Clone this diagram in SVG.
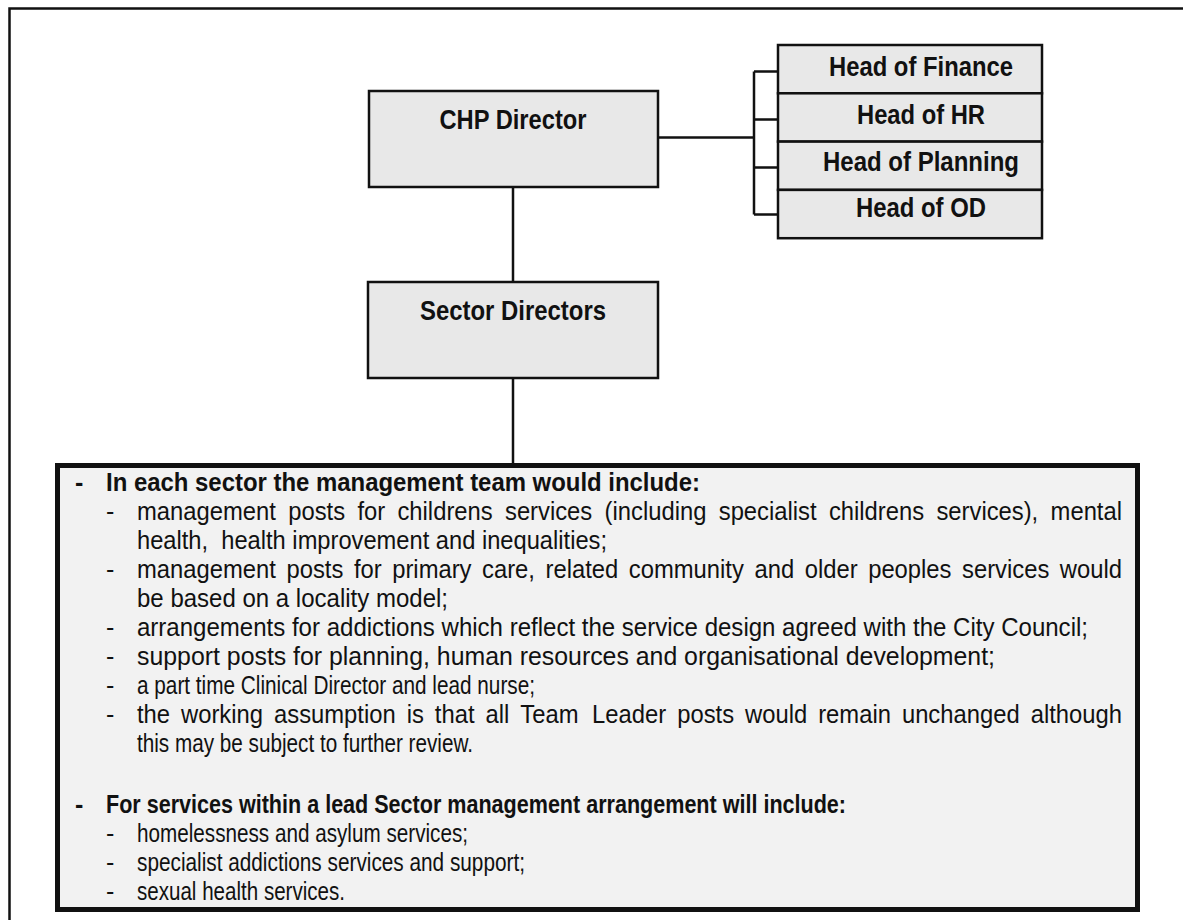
<svg xmlns="http://www.w3.org/2000/svg" width="1183" height="920" viewBox="0 0 1183 920">
  <style>
    .node { fill: #e8e8e8; stroke: #111; stroke-width: 2.5; }
    .label { font-family: "Liberation Sans Narrow", "Liberation Sans", Arial, sans-serif; font-size: 27px; font-weight: bold; fill: #111; text-anchor: middle; }
    .wire { fill: none; stroke: #111; stroke-width: 2.5; }
    .body { font-family: "Liberation Sans Narrow", "Liberation Sans", Arial, sans-serif; font-size: 25px; fill: #111; }
    .head { font-weight: bold; }
    .pre { white-space: pre; }
  </style>

  <!-- page frame -->
  <rect x="9.5" y="8.5" width="1200" height="950" fill="#fff" stroke="#111" stroke-width="2.5"/>

  <!-- connectors -->
  <g id="connectors">
    <path class="wire" d="M513,187 V282"/>
    <path class="wire" d="M513,378 V464"/>
    <path class="wire" d="M658,137.5 H754"/>
    <path class="wire" d="M754,71.5 V214.5 M754,71.5 H778 M754,119.5 H778 M754,167.5 H778 M754,214.5 H778"/>
  </g>

  <g id="chp-director">
    <rect class="node" x="369" y="91" width="289" height="96"/>
    <text class="label" x="513" y="129" textLength="147" lengthAdjust="spacingAndGlyphs">CHP Director</text>
  </g>

  <g id="sector-directors">
    <rect class="node" x="368" y="282" width="290" height="96"/>
    <text class="label" x="513" y="320" textLength="186" lengthAdjust="spacingAndGlyphs">Sector Directors</text>
  </g>

  <g id="head-finance">
    <rect class="node" x="778" y="45" width="264" height="48.3"/>
    <text class="label" x="921" y="76" textLength="184" lengthAdjust="spacingAndGlyphs">Head of Finance</text>
  </g>
  <g id="head-hr">
    <rect class="node" x="778" y="93.3" width="264" height="48.3"/>
    <text class="label" x="921" y="124" textLength="128" lengthAdjust="spacingAndGlyphs">Head of HR</text>
  </g>
  <g id="head-planning">
    <rect class="node" x="778" y="141.6" width="264" height="48.3"/>
    <text class="label" x="921" y="171" textLength="196" lengthAdjust="spacingAndGlyphs">Head of Planning</text>
  </g>
  <g id="head-od">
    <rect class="node" x="778" y="189.9" width="264" height="48.3"/>
    <text class="label" x="921" y="217" textLength="130" lengthAdjust="spacingAndGlyphs">Head of OD</text>
  </g>

  <!-- sector management arrangements -->
  <g id="sector-team">
    <rect x="57.5" y="465.5" width="1080" height="444" fill="#f2f2f2" stroke="#111" stroke-width="5"/>
    <g class="body">
      <text class="head" x="75" y="491">-</text>
      <text class="head" x="106" y="491" textLength="594" lengthAdjust="spacingAndGlyphs">In each sector the management team would include:</text>

      <!-- justified lines: words placed in a 0.952 horizontal scale -->
      <text x="106" y="520">-</text>
      <text transform="scale(0.952 1)" y="520"><tspan x="143.91">management</tspan><tspan x="302.74">posts</tspan><tspan x="375.42">for</tspan><tspan x="417.52">childrens</tspan><tspan x="530.47">services</tspan><tspan x="635.07">(including</tspan><tspan x="754.98">specialist</tspan><tspan x="870.71">childrens</tspan><tspan x="983.67">services),</tspan><tspan x="1178.57" text-anchor="end">mental</tspan></text>
      <text class="pre" x="137" y="549" textLength="470" lengthAdjust="spacingAndGlyphs">health,  health improvement and inequalities;</text>

      <text x="106" y="578">-</text>
      <text transform="scale(0.952 1)" y="578"><tspan x="143.91">management</tspan><tspan x="300.89">posts</tspan><tspan x="371.72">for</tspan><tspan x="411.97">primary</tspan><tspan x="506.39">care,</tspan><tspan x="573.05">related</tspan><tspan x="660.56">community</tspan><tspan x="792.49">and</tspan><tspan x="845.27">older</tspan><tspan x="911.93">peoples</tspan><tspan x="1010.57">services</tspan><tspan x="1178.57" text-anchor="end">would</tspan></text>
      <text x="137" y="607" textLength="311" lengthAdjust="spacingAndGlyphs">be based on a locality model;</text>

      <text x="106" y="636">-</text>
      <text x="137" y="636" textLength="951" lengthAdjust="spacingAndGlyphs">arrangements for addictions which reflect the service design agreed with the City Council;</text>

      <text x="106" y="665">-</text>
      <text x="137" y="665" textLength="858" lengthAdjust="spacingAndGlyphs">support posts for planning, human resources and organisational development;</text>

      <text x="106" y="694">-</text>
      <text x="137" y="694" textLength="398" lengthAdjust="spacingAndGlyphs">a part time Clinical Director and lead nurse;</text>

      <text x="106" y="723">-</text>
      <text transform="scale(0.952 1)" y="723"><tspan x="143.91">the</tspan><tspan x="190.19">working</tspan><tspan x="287.85">assumption</tspan><tspan x="427.21">is</tspan><tspan x="456.79">that</tspan><tspan x="510.02">all</tspan><tspan x="546.55">Team</tspan><tspan x="621.99">Leader</tspan><tspan x="711.34">posts</tspan><tspan x="782.63">would</tspan><tspan x="859.46">remain</tspan><tspan x="947.39">unchanged</tspan><tspan x="1178.57" text-anchor="end">although</tspan></text>
      <text x="137" y="752" textLength="336" lengthAdjust="spacingAndGlyphs">this may be subject to further review.</text>

      <text class="head" x="75" y="813">-</text>
      <text class="head" x="106" y="813" textLength="740" lengthAdjust="spacingAndGlyphs">For services within a lead Sector management arrangement will include:</text>

      <text x="106" y="842">-</text>
      <text x="137" y="842" textLength="331" lengthAdjust="spacingAndGlyphs">homelessness and asylum services;</text>

      <text x="106" y="871">-</text>
      <text x="137" y="871" textLength="388" lengthAdjust="spacingAndGlyphs">specialist addictions services and support;</text>

      <text x="106" y="900">-</text>
      <text x="137" y="900" textLength="208" lengthAdjust="spacingAndGlyphs">sexual health services.</text>
    </g>
  </g>
</svg>
